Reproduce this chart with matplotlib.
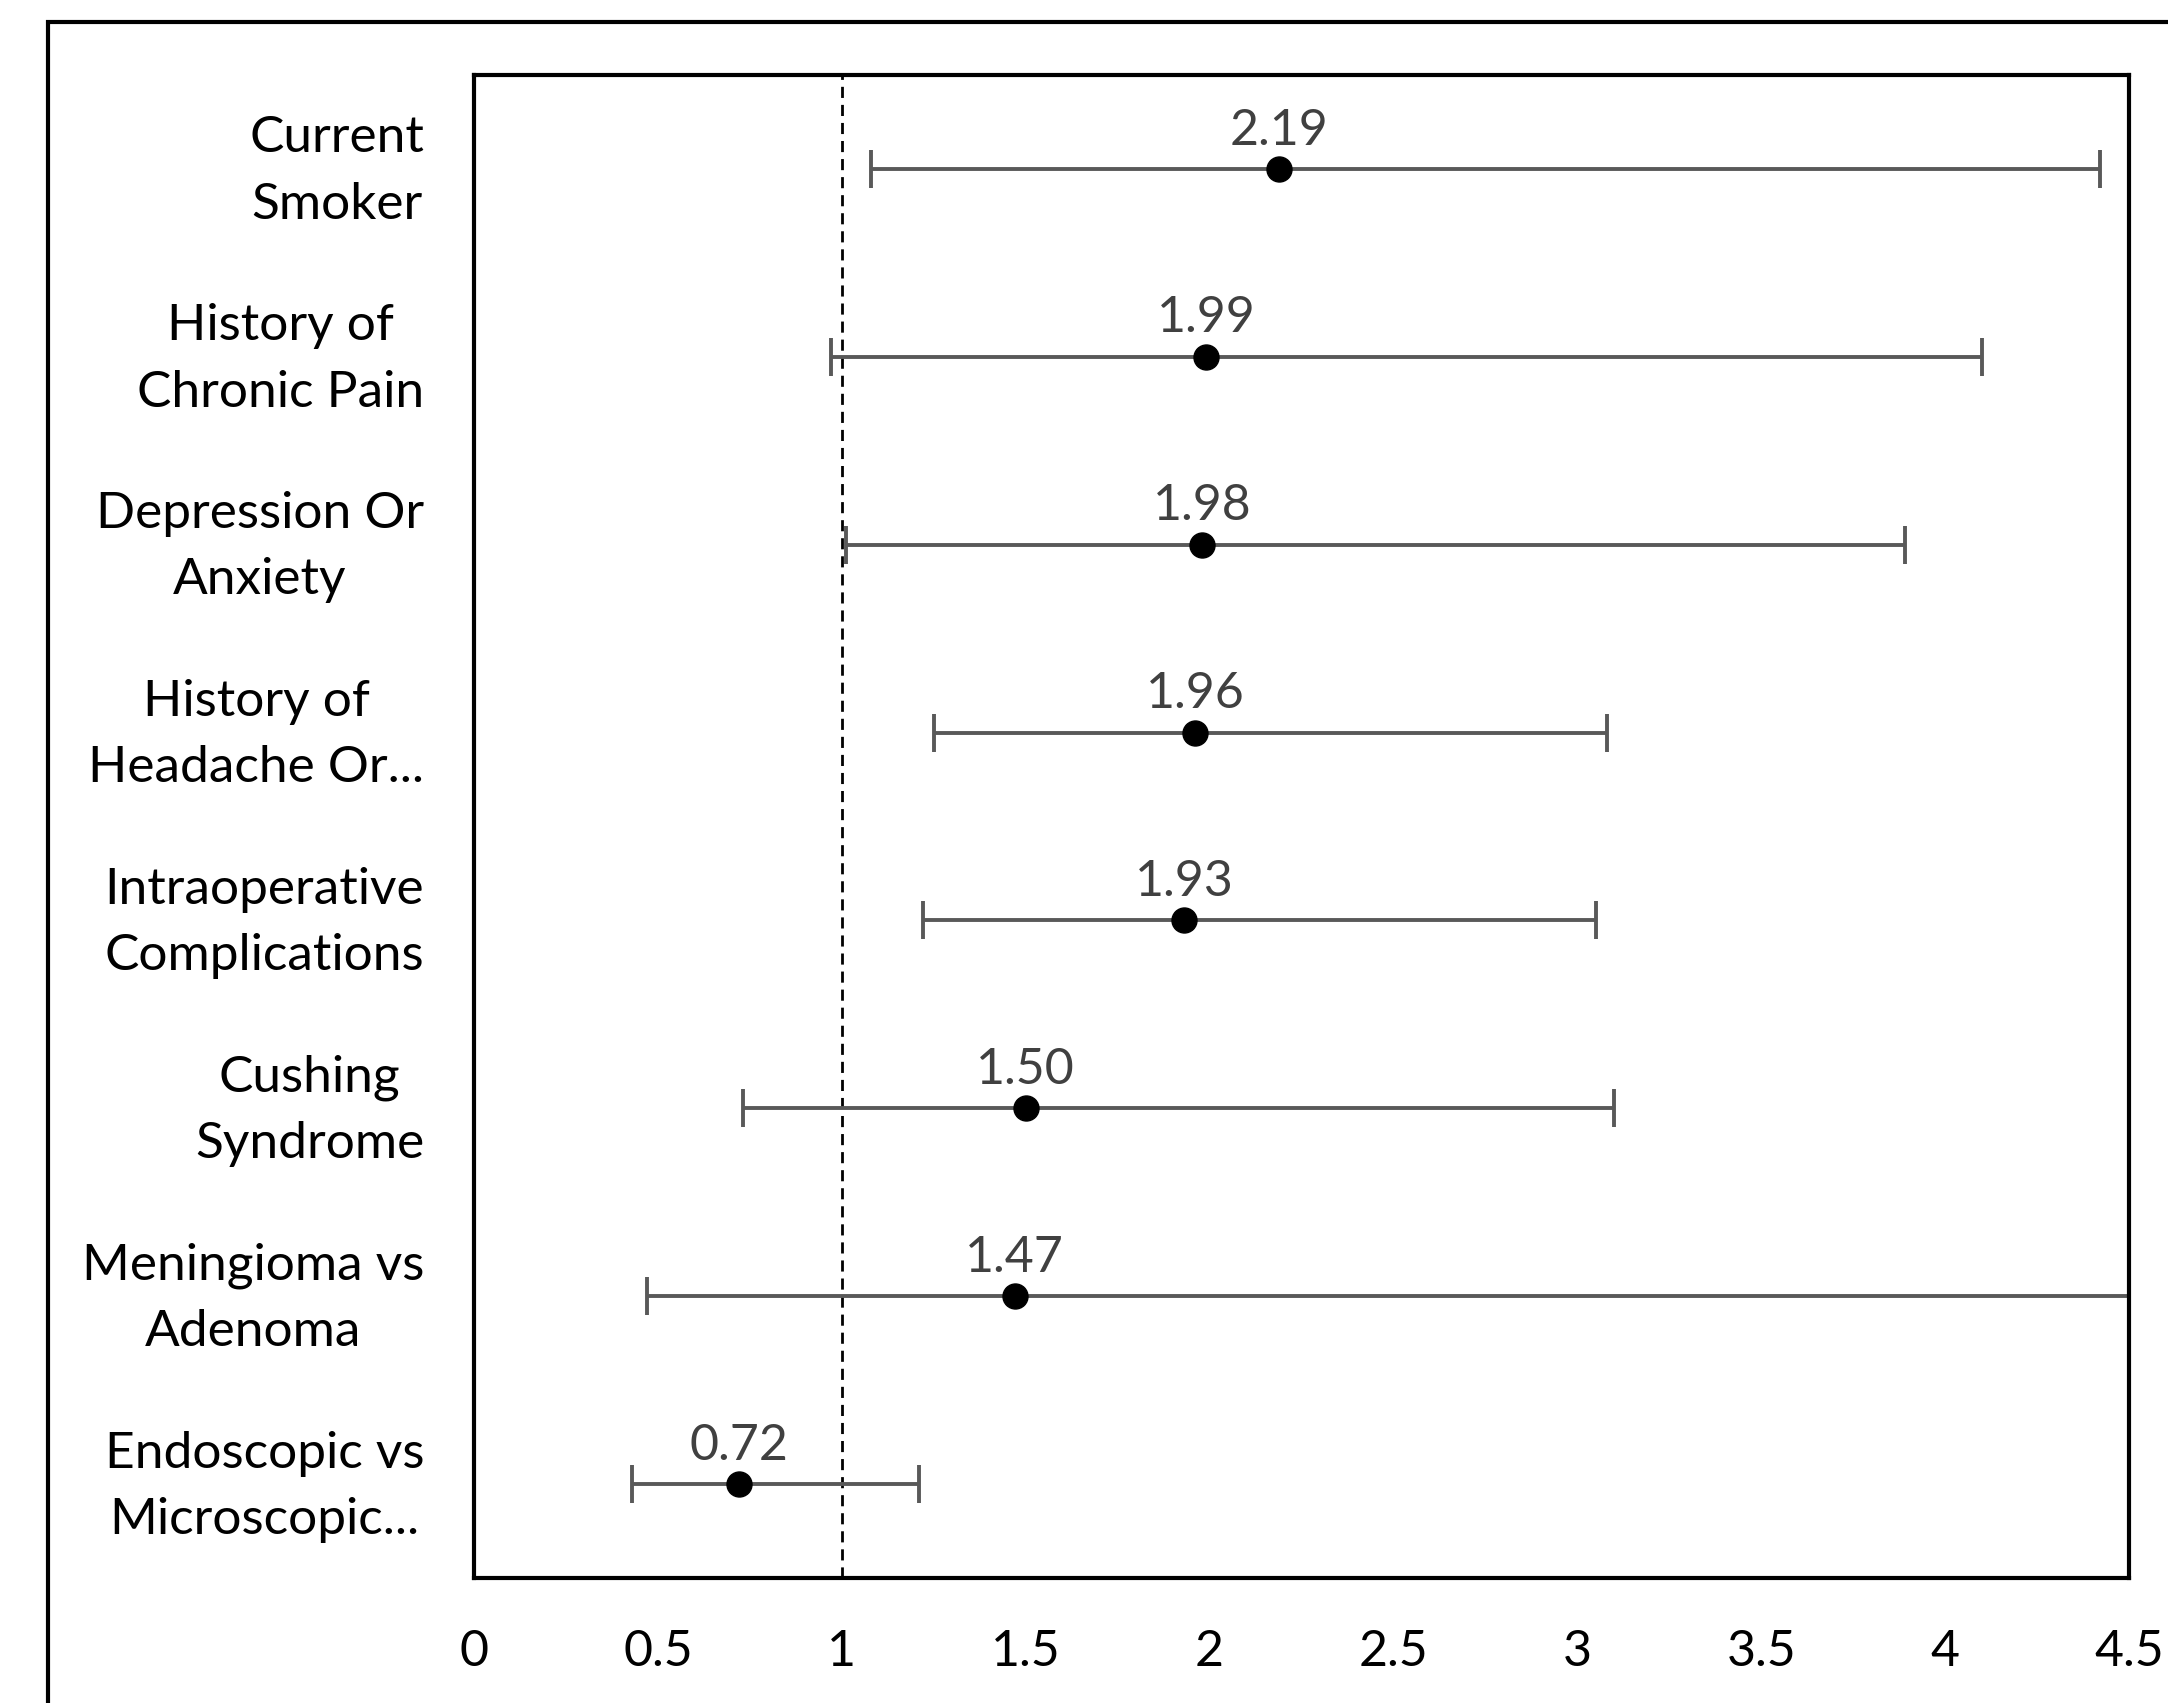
import matplotlib
matplotlib.use("Agg")
from matplotlib import pyplot as plt
from matplotlib.patches import Rectangle
from matplotlib.transforms import ScaledTranslation

plt.rcParams['font.family'] = ['Lato', 'DejaVu Sans']

#data
labels = ["Current\nSmoker", "History of\nChronic Pain", "Depression Or\nAnxiety",
          "History of\nHeadache Or...", "Intraoperative\nComplications", "Cushing\nSyndrome",
          "Meningioma vs\nAdenoma", "Endoscopic vs\nMicroscopic..."]
odds = [2.19, 1.99, 1.98, 1.96, 1.93, 1.50, 1.47, 0.72]
ci_low = [1.08, 0.97, 1.01, 1.25, 1.22, 0.73, 0.47, 0.43]
ci_high = [4.42, 4.10, 3.89, 3.08, 3.05, 3.10, 5.20, 1.21]
xticks = [0, 0.5, 1, 1.5, 2, 2.5, 3, 3.5, 4, 4.5]
xtick_labels = ["0", "0.5", "1", "1.5", "2", "2.5", "3", "3.5", "4", "4.5"]

fig = plt.figure(figsize=(21.68, 17.03), dpi=100)
ax = fig.add_axes([0.2187, 0.0734, 0.982 - 0.2187, 0.956 - 0.0734])

#outer chart frame (runs off the right/bottom edge like the screenshot)
fig.patches.append(Rectangle((0.022, -0.05), 1.2, 0.987 + 0.05, transform=fig.transFigure,
                             fill=False, edgecolor="black", linewidth=3, clip_on=False))

ypos = list(range(len(labels)))
err_lo = [o - l for o, l in zip(odds, ci_low)]
err_hi = [h - o for o, h in zip(odds, ci_high)]

ax.axvline(1, color="black", linestyle=(0, (4, 2.5)), linewidth=2, zorder=1)
ax.errorbar(odds, ypos, xerr=[err_lo, err_hi], fmt="none", ecolor="#595959",
            elinewidth=2.8, capsize=14, capthick=2.8, zorder=2)
ax.plot(odds, ypos, "o", color="black", markersize=18, zorder=3)

for o, y in zip(odds, ypos):
    ax.annotate(f"{o:.2f}", (o, y), xytext=(0, 11), textcoords="offset points",
                ha="center", va="bottom", fontsize=36, color="#404040")

ax.set_xlim(0, 4.5)
ax.set_ylim(len(labels) - 0.5, -0.5)
ax.set_xticks(xticks)
ax.set_xticklabels(xtick_labels, fontsize=36)
ax.set_yticks(ypos)
ax.set_yticklabels(labels, fontsize=37, multialignment="center", linespacing=1.55)
ax.tick_params(axis="x", length=0, pad=37)
ax.tick_params(axis="y", length=0, pad=36)
#nudge category labels up a bit, like the excel layout
shift = ScaledTranslation(0, 0.12, fig.dpi_scale_trans)
for lab in ax.get_yticklabels():
    lab.set_transform(lab.get_transform() + shift)
for s in ax.spines.values():
    s.set_linewidth(3)
    s.set_color("black")

fig.savefig("out.png", dpi=100)
